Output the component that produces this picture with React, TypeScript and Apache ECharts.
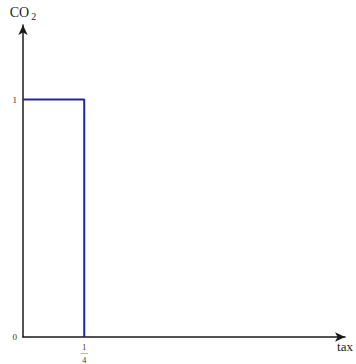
import React, { useEffect, useRef } from "react";
import * as echarts from "echarts";

const stepX = [0, 0.25, 0.25];
const stepY = [1, 1, 0];
const yTicks = [0, 1];
const xTickValue = 0.25;
const xLabelNum = "1";
const xLabelDen = "4";

export default function App() {
  const ref = useRef<HTMLDivElement>(null);
  useEffect(() => {
    const chart = echarts.init(ref.current!, undefined, { renderer: "svg" });
    const font = "'Liberation Serif', 'DejaVu Serif', serif";
    chart.setOption({
      animation: false,
      backgroundColor: "#ffffff",
      grid: { left: 23, right: 7, top: 25, bottom: 21, containLabel: false },
      xAxis: {
        type: "value",
        min: 0,
        max: 1.315,
        interval: 0.25,
        name: "tax",
        nameLocation: "end",
        nameGap: -3,
        nameTextStyle: {
          fontFamily: font,
          fontSize: 13,
          color: "#222",
          align: "center",
          verticalAlign: "top",
          padding: [3, 0, 0, 6],
        },
        axisLine: {
          show: true,
          symbol: ["none", "arrow"],
          symbolSize: [7, 10],
          lineStyle: { color: "#1a1a1a", width: 1.5 },
        },
        axisTick: { show: false },
        splitLine: { show: false },
        axisLabel: {
          margin: 6,
          fontFamily: font,
          color: "#333",
          formatter: (v: number) =>
            Math.abs(v - xTickValue) < 1e-9 ? `{n|${xLabelNum}}\n{b|──}\n{d|${xLabelDen}}` : "",
          rich: {
            n: { fontSize: 8, fontFamily: font, color: "#333", lineHeight: 8 },
            b: { fontSize: 5, fontFamily: font, color: "#333", lineHeight: 5 },
            d: { fontSize: 8, fontFamily: font, color: "#333", lineHeight: 8 },
          },
        },
      },
      yAxis: {
        type: "value",
        min: 0,
        max: 1.314,
        interval: 1,
        name: "CO{s|2}",
        nameLocation: "end",
        nameGap: 4,
        nameTextStyle: {
          fontFamily: font,
          fontSize: 14,
          color: "#222",
          align: "center",
          padding: [0, 0, 0, 0],
          rich: {
            s: { fontFamily: font, fontSize: 10, color: "#222", padding: [8, 0, 0, 2] },
          },
        },
        axisLine: {
          show: true,
          symbol: ["none", "arrow"],
          symbolSize: [7, 10],
          lineStyle: { color: "#1a1a1a", width: 1.5 },
        },
        axisTick: { show: false },
        splitLine: { show: false },
        axisLabel: {
          margin: 6,
          fontFamily: font,
          fontSize: 9,
          color: "#333",
          formatter: (v: number) => (yTicks.includes(v) ? String(v) : ""),
        },
      },
      series: [
        {
          type: "line",
          data: stepX.map((x, i) => [x, stepY[i]]),
          showSymbol: false,
          lineStyle: { color: "#2222b0", width: 2 },
        },
      ],
    });
    return () => chart.dispose();
  }, []);
  return (
    <div
      ref={ref}
      style={{ position: "fixed", left: 0, top: 0, width: 356, height: 364 }}
    />
  );
}
